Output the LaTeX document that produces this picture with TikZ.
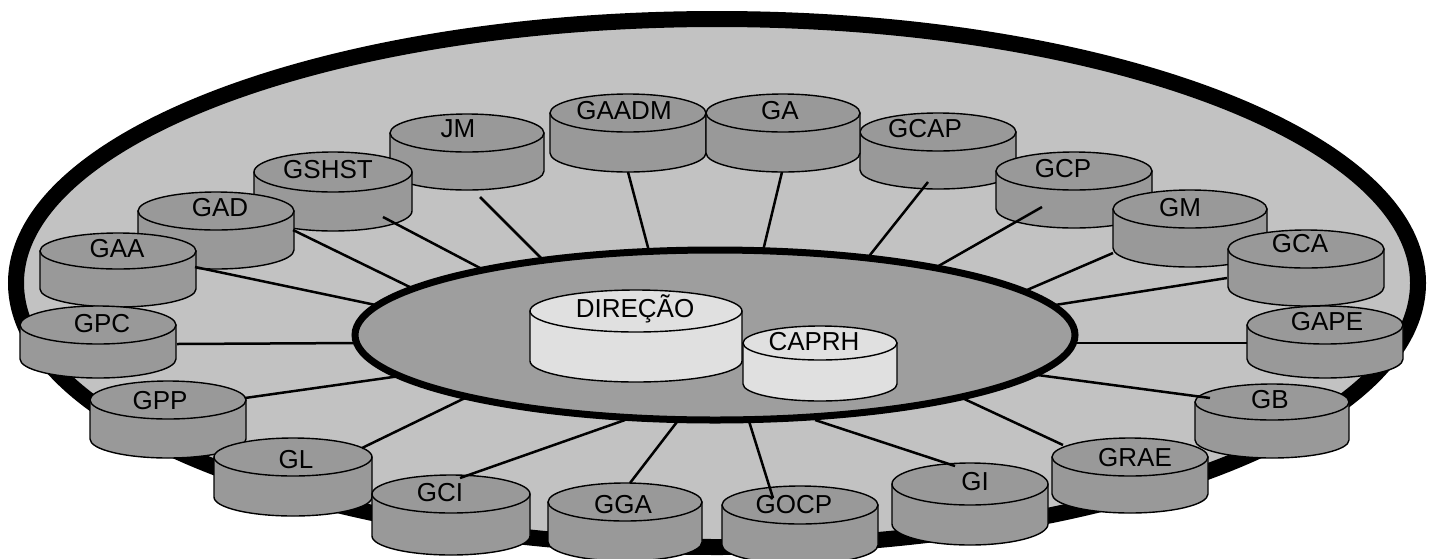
\documentclass[tikz,border=0pt]{standalone}
\usepackage{fontspec}
\setmainfont{Liberation Sans}
\definecolor{outerg}{gray}{0.76}
\definecolor{cylg}{gray}{0.60}
\definecolor{innerg}{gray}{0.62}
\definecolor{lightg}{gray}{0.88}
\tikzset{
  cylbody/.style={draw=black,line width=1.4pt,fill=cylg,line join=round},
  cyltop/.style={draw=black,line width=1.4pt,fill=cylg},
  lbl/.style={font=\fontsize{26}{26}\selectfont,anchor=base,inner sep=0pt},
  conn/.style={draw=black,line width=2.5pt},
}
% name, cx, cy, rx, ry, h, label x, label y, text
\newcommand\cylnd[9]{%
  \path[cylbody] (#2-#4,#3) -- (#2-#4,#3+#6)
     arc[start angle=180,end angle=360,x radius=#4pt,y radius=#5pt]
     -- (#2+#4,#3) -- cycle;
  \path[cyltop] (#2,#3) ellipse[x radius=#4pt,y radius=#5pt];
  \node[lbl] (#1) at (#7,#8+9) {#9};
}
\newcommand\connect[5]{%
  \coordinate (#1-c) at (#2,#3);
  \coordinate (#1-e) at (#4,#5);
  \draw[conn] (#1-c) -- (#1-e);
}
\begin{document}
\begin{tikzpicture}[x=1pt,y=-1pt]
\useasboundingbox (0,0) rectangle (1430,558);
% outer disc
\path[fill=outerg,draw=black,line width=16pt] (717,283) ellipse[x radius=701pt,y radius=264pt];
% cylinders, back to front
\cylnd{JM}{467}{133}{77}{19}{38}{458}{128}{JM}
\cylnd{GCAP}{938}{132}{78}{19}{38}{925}{128}{GCAP}
\cylnd{GAADM}{628}{113}{78}{19}{40}{624}{110}{GAADM}
\cylnd{GA}{783}{113}{77}{19}{40}{780}{110}{GA}
\cylnd{GSHST}{333}{172}{79}{20}{39}{328}{169}{GSHST}
\cylnd{GCP}{1074}{171}{78}{19}{38}{1063}{168}{GCP}
\cylnd{GAD}{216}{211}{78}{19}{39}{220}{207}{GAD}
\cylnd{GM}{1190}{209}{77}{19}{39}{1180}{207}{GM}
\cylnd{GAA}{118}{251}{78}{18}{38}{117}{248}{GAA}
\cylnd{GCA}{1306}{249}{78}{19}{38}{1300}{243}{GCA}
\cylnd{GPC}{98}{325}{78}{19}{34}{102}{323}{GPC}
\cylnd{GAPE}{1325}{325}{78}{19}{34}{1327}{321}{GAPE}
\cylnd{GPP}{168}{400}{78}{19}{39}{160}{400}{GPP}
\cylnd{GB}{1272}{402}{77}{18}{38}{1270}{399}{GB}
\cylnd{GL}{293}{457}{79}{19}{40}{296}{459}{GL}
\cylnd{GRAE}{1130}{457}{78}{19}{37}{1135}{457}{GRAE}
\cylnd{GCI}{451}{494}{79}{19}{42}{440}{492}{GCI}
\cylnd{GI}{970}{484}{78}{21}{40}{975}{481}{GI}
\cylnd{GGA}{625}{502}{77}{19}{40}{623}{504}{GGA}
\cylnd{GOCP}{800}{505}{78}{19}{40}{794}{504}{GOCP}
% connectors
\connect{GAA}{195}{267}{390}{308}
\connect{GAD}{293}{230}{420}{292}
\connect{GSHST}{383}{217}{480}{268}
\connect{JM}{480}{197}{545}{262}
\connect{GAADM}{628}{172}{650}{255}
\connect{GA}{782}{172}{762}{255}
\connect{GCAP}{928}{182}{866}{260}
\connect{GCP}{1042}{207}{935}{268}
\connect{GM}{1113}{253}{1020}{293}
\connect{GCA}{1227}{278}{1055}{305}
\connect{GAPE}{1247}{343}{1060}{343}
\connect{GB}{1210}{398}{1030}{374}
\connect{GRAE}{1063}{445}{960}{397}
\connect{GI}{955}{466}{815}{420}
\connect{GOCP}{773}{498}{748}{418}
\connect{GGA}{630}{483}{680}{418}
\connect{GCI}{460}{478}{625}{420}
\connect{GL}{362}{448}{465}{398}
\connect{GPP}{245}{398}{400}{376}
\connect{GPC}{177}{344}{360}{343}
% inner disc
\path[fill=innerg,draw=black,line width=7pt] (715,335) ellipse[x radius=360pt,y radius=85pt];
\begin{scope}[cylbody/.append style={fill=lightg},cyltop/.append style={fill=lightg}]
\cylnd{DIR}{636}{311}{106}{21}{50}{635}{308}{DIREÇÃO}
\cylnd{CAPRH}{820}{343}{77}{17}{41}{814}{341}{CAPRH}
\end{scope}
\end{tikzpicture}
\end{document}
